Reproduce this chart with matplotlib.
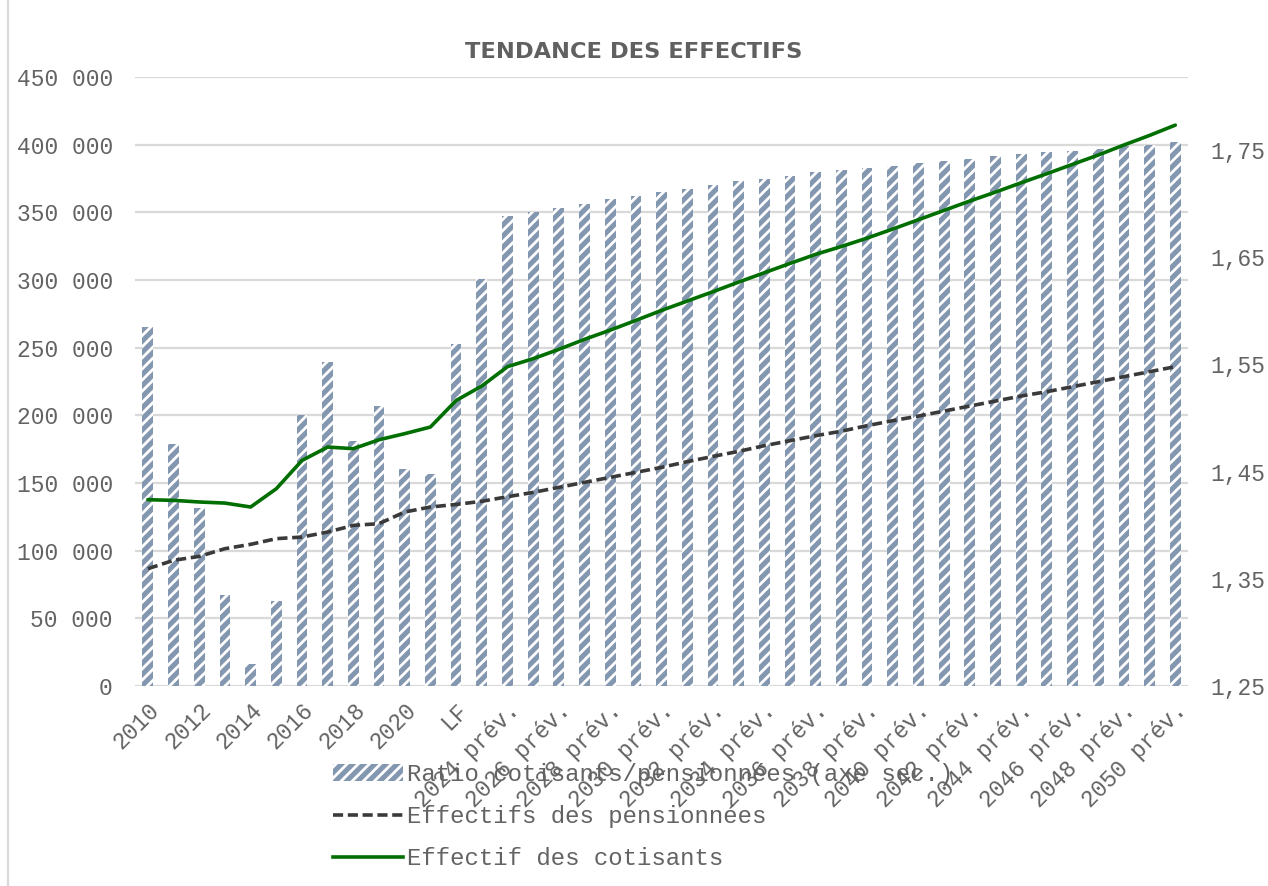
import matplotlib
matplotlib.use('Agg')
from matplotlib import pyplot as plt
from matplotlib.patches import Patch
from matplotlib.lines import Line2D
from matplotlib.ticker import FuncFormatter
import numpy as np

labels = [str(y) for y in range(2010, 2022)] + ['LF'] + ['%d prév.' % y for y in range(2023, 2051)]

# ratio cotisants / pensionnees (axe secondaire)
ratio = [1.585, 1.476, 1.416, 1.335, 1.271, 1.329, 1.503, 1.552, 1.479, 1.511,
         1.452, 1.448, 1.569, 1.630, 1.688, 1.692, 1.696, 1.700, 1.704, 1.707,
         1.711, 1.714, 1.717, 1.721, 1.723, 1.726, 1.729, 1.731, 1.733, 1.735,
         1.738, 1.740, 1.742, 1.744, 1.746, 1.748, 1.749, 1.751, 1.754, 1.755, 1.757]

pensionnees = [86700, 92900, 95800, 101500, 104700, 108900, 110100, 113800, 118700, 120000,
               128600, 132300, 134200, 136500, 139900, 143100, 146800, 150500, 154200, 157900,
               161600, 165800, 169700, 173400, 177600, 181300, 185000, 188300, 192400, 196100,
               199500, 203200, 206900, 210600, 214300, 217500, 221200, 224900, 228600, 232300, 236000]

cotisants = [137700, 137200, 136000, 135200, 132300, 145800, 166700, 176600, 175400, 182000,
             186500, 191400, 211000, 221700, 236000, 241900, 248800, 256200, 263000, 270200,
             277600, 284500, 291400, 298500, 305400, 312300, 319000, 324800, 331000, 337700,
             344600, 351500, 358400, 365000, 371900, 378600, 385500, 392400, 399800, 406900, 414500]

grey = '#636363'
grid = '#d9d9d9'
bar_col = '#8497b0'
green = '#006e00'
dash_col = '#3a3a3a'
mono = ['Liberation Mono', 'DejaVu Sans Mono']
fs = 16.5

plt.rcParams['hatch.linewidth'] = 2.0

fig = plt.figure(figsize=(12.68, 8.86), dpi=100)
ax1 = fig.add_axes([0.1065, 0.2257, 0.8305, 0.6873])
ax2 = ax1.twinx()
ax3 = ax1.twinx()

x = np.arange(len(labels))

# left axis: grid + ticks
ax1.set_ylim(0, 450000)
ax1.set_yticks(np.arange(0, 450001, 50000))
ax1.yaxis.set_major_formatter(FuncFormatter(lambda v, p: '{:,.0f}'.format(v).replace(',', ' ')))
ax1.grid(axis='y', color=grid, lw=1.6)
ax1.set_axisbelow(True)
ax1.set_xlim(-0.5, len(labels) - 0.5)
ax1.set_xticks(x[::2])
ax1.set_xticklabels(labels[::2], rotation=45, ha='right', rotation_mode='anchor')
ax1.tick_params(axis='both', length=0, colors=grey, labelsize=fs)
ax1.tick_params(axis='y', pad=16)
ax1.tick_params(axis='x', pad=9)
for lab in ax1.get_xticklabels() + ax1.get_yticklabels():
    lab.set_family(mono)

# bars on secondary axis
ax2.bar(x, [r - 1.25 for r in ratio], bottom=1.25, width=0.42, color=bar_col,
        edgecolor='white', linewidth=0, hatch='///', zorder=2)
ax2.set_ylim(1.25, 1.818)
ax2.set_yticks([1.25, 1.35, 1.45, 1.55, 1.65, 1.75])
ax2.yaxis.set_major_formatter(FuncFormatter(lambda v, p: ('%.2f' % v).replace('.', ',')))
ax2.tick_params(axis='y', length=0, colors=grey, labelsize=fs, pad=16)
for lab in ax2.get_yticklabels():
    lab.set_family(mono)

# lines, same scale as left axis
ax3.set_ylim(ax1.get_ylim())
ax3.set_yticks([])
ax3.plot(x, pensionnees, color=dash_col, lw=2.6, dashes=(2.8, 1.3), solid_joinstyle='round')
ax3.plot(x, cotisants, color=green, lw=2.6, solid_joinstyle='round', solid_capstyle='round')

for a in (ax1, ax2, ax3):
    for s in a.spines.values():
        s.set_visible(False)

fig.text(0.5, 0.941, 'TENDANCE DES EFFECTIFS', ha='center', va='center',
         fontsize=16.2, color='#606060', family='DejaVu Sans', weight='bold')

handles = [Patch(facecolor=bar_col, edgecolor='white', hatch='///', linewidth=0),
           Line2D([], [], color=dash_col, lw=2.6, dashes=(2.8, 1.3)),
           Line2D([], [], color=green, lw=2.6)]
names = ['Ratio cotisants/pensionnées (axe sec.)', 'Effectifs des pensionnées', 'Effectif des cotisants']
fig.legend(handles, names, loc='upper left', bbox_to_anchor=(0.2625, 0.139), frameon=False,
           prop={'family': mono, 'size': 17.3}, labelcolor=grey, handlelength=2.9,
           handletextpad=0.2, labelspacing=0.8, borderaxespad=0, borderpad=0)

fig.add_artist(Line2D([0.0065, 0.0065], [0, 1], color=grid, lw=1.6))

fig.savefig('out.png', dpi=100)
